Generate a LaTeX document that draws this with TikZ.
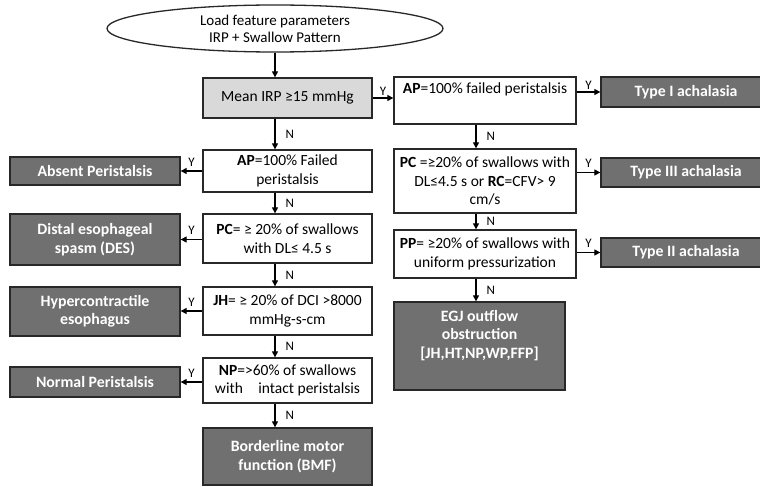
\documentclass[tikz,border=0pt]{standalone}
\usepackage{fontspec}
\setmainfont{Carlito}
\usetikzlibrary{shapes.geometric,arrows.meta}
\definecolor{darkbox}{RGB}{112,112,112}
\definecolor{lightbox}{RGB}{217,217,217}
\definecolor{edgec}{RGB}{40,40,40}
\begin{document}
\begin{tikzpicture}[x=1pt,y=-1pt,
  sz/.style 2 args={minimum width=#1, minimum height=#2},
  box/.style={draw=edgec, line width=1.3pt, fill=white, align=center, inner sep=0pt,
    font=\fontsize{15.5}{18.5}\selectfont},
  res/.style={box, fill=darkbox, text=white, font=\fontsize{15.8}{18.5}\selectfont\bfseries},
  arr/.style={-{Triangle[length=6pt,width=6pt]}, line width=1.1pt, draw=black},
  lab/.style={font=\fontsize{13}{15}\selectfont, inner sep=1pt}]
\useasboundingbox (0,0) rectangle (760,487);
\coordinate (cl) at (275,0);
\coordinate (cr) at (476,0);
% top
\node[ellipse, draw=edgec, line width=1.3pt, fill=white, minimum width=336, minimum height=47,
  inner sep=0pt, align=center, font=\fontsize{15}{17}\selectfont] (ell) at (275,28.5)
  {Load feature parameters\\IRP + Swallow Pattern};
\node[box, fill=lightbox, sz={169}{40}] (irp) at (287.5,98) {Mean IRP ≥15 mmHg};
% right column
\node[box, sz={182}{47}] (apr) at (485,100.5) {\textbf{AP}=100\% failed peristalsis\\\strut};
\node[res, sz={170}{30}] (t1) at (686,92) {Type I achalasia};
\node[box, sz={182}{64}] (pcr) at (485,181) {\textbf{PC} =≥20\% of swallows with\\DL≤4.5 s or \textbf{RC}=CFV> 9\\cm/s};
\node[res, sz={170}{29}] (t3) at (686,172.5) {Type III achalasia};
\node[box, sz={182}{48}] (ppr) at (485,254) {\textbf{PP}= ≥20\% of swallows with\\uniform pressurization};
\node[res, sz={170}{29}] (t2) at (686,252.5) {Type II achalasia};
\node[res, sz={171}{88}] (egj) at (479.5,346) {EGJ outflow\\obstruction\\{[JH,HT,NP,WP,FFP]}\\\strut};
% left column
\node[box, sz={169}{42}] (apl) at (287.5,171) {\textbf{AP}=100\% Failed\\peristalsis};
\node[res, sz={170}{28}] (abs) at (95,171) {Absent Peristalsis};
\node[box, sz={169}{49}] (pcl) at (287.5,238.5) {\textbf{PC}= ≥ 20\% of swallows\\with DL≤ 4.5 s};
\node[res, sz={170}{51}] (des) at (95,239.5) {Distal esophageal\\spasm (DES)};
\node[box, sz={169}{48}] (jh) at (287.5,311) {\textbf{JH}= ≥ 20\% of DCI >8000\\mmHg-s-cm};
\node[res, sz={170}{49}] (hyp) at (95,311.5) {Hypercontractile\\esophagus};
\node[box, sz={169}{45}] (np) at (287.5,380.5) {\textbf{NP}=>60\% of swallows\\with\quad intact peristalsis};
\node[res, sz={170}{30}] (norm) at (95,382) {Normal Peristalsis};
\node[res, sz={169}{57}] (bmf) at (287.5,456.5) {Borderline motor\\function (BMF)};
% connectors
\draw[arr] (ell.south) -- (irp.north -| ell.south);
\draw[arr] (irp.east) -- node[lab, above=1pt]{Y} (irp.east -| apr.west);
\draw[arr] (irp.south -| cl) -- node[lab, right=9pt]{N} (apl.north -| cl);
\draw[arr] (apl.south -| cl) -- node[lab, right=9pt]{N} (pcl.north -| cl);
\draw[arr] (pcl.south -| cl) -- node[lab, right=9pt]{N} (jh.north -| cl);
\draw[arr] (jh.south -| cl) -- node[lab, right=9pt]{N} (np.north -| cl);
\draw[arr] (np.south -| cl) -- node[lab, right=9pt]{N} (bmf.north -| cl);
\draw[arr] (apl.west) -- node[lab, above=3pt]{Y} (abs.east);
\draw[arr] (pcl.west |- des.east) -- node[lab, above=3pt]{Y} (des.east);
\draw[arr] (jh.west) -- node[lab, above=3pt]{Y} (jh.west -| hyp.east);
\draw[arr] (np.west |- norm.east) -- node[lab, above=3pt]{Y} (norm.east);
\draw[arr] (apr.east |- t1.west) -- node[lab, above=1pt]{Y} (t1.west);
\draw[arr] (pcr.east |- t3.west) -- node[lab, above=3pt]{Y} (t3.west);
\draw[arr] (ppr.east |- t2.west) -- node[lab, above=3pt]{Y} (t2.west);
\draw[arr] (apr.south -| cr) -- node[lab, right=9pt]{N} (pcr.north -| cr);
\draw[arr] (pcr.south -| cr) -- node[lab, right=9pt]{N} (ppr.north -| cr);
\draw[arr] (ppr.south -| cr) -- node[lab, right=9pt]{N} (egj.north -| cr);
\end{tikzpicture}
\end{document}
